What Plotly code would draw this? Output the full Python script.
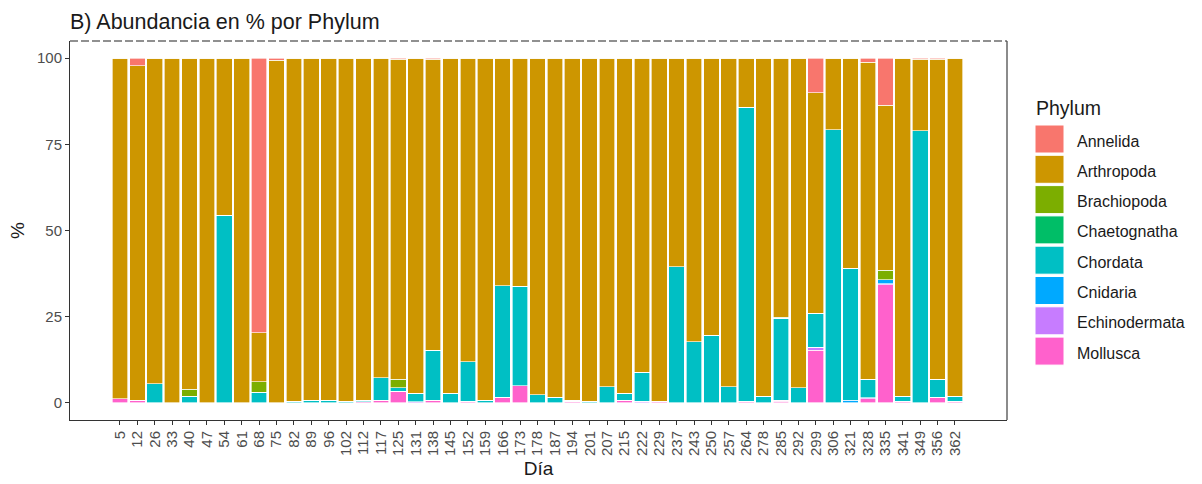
import plotly.graph_objects as go

dias = [5, 12, 26, 33, 40, 47, 54, 61, 68, 75, 82, 89, 96, 102, 112, 117, 125, 131, 138, 145,
        152, 159, 166, 173, 178, 187, 194, 201, 207, 215, 222, 229, 237, 243, 250, 257, 264, 278,
        285, 292, 299, 306, 321, 328, 335, 341, 349, 356, 362]

annelida = [0, 2.2, 0, 0, 0, 0, 0, 0, 79.7, 0.6,
            0, 0, 0, 0, 0, 0, 0.3, 0, 0.3, 0,
            0, 0, 0, 0, 0, 0, 0, 0, 0, 0,
            0, 0, 0, 0, 0, 0, 0, 0, 0, 0,
            10.0, 0, 0, 1.1, 13.7, 0, 0.3, 0.3, 0]
arthropoda = [98.8, 97.0, 94.5, 100, 96.1, 100, 45.6, 100, 14.2, 99.4,
              99.6, 99.2, 99.2, 99.6, 99.2, 92.7, 92.8, 97.3, 84.4, 97.3,
              88.1, 99.2, 66.0, 66.2, 97.7, 98.4, 99.2, 99.6, 95.4, 97.3,
              91.1, 99.6, 60.5, 82.3, 80.4, 95.4, 14.2, 98.1, 75.2, 95.7,
              64.0, 20.7, 60.9, 92.0, 47.9, 98.1, 20.7, 92.8, 98.1]
brachiopoda = [0, 0, 0, 0, 2.0, 0, 0, 0, 3.0, 0,
               0, 0, 0, 0, 0, 0, 2.6, 0, 0, 0,
               0, 0, 0, 0, 0, 0, 0, 0, 0, 0,
               0, 0, 0, 0, 0, 0, 0, 0, 0.3, 0,
               0, 0, 0, 0, 2.7, 0, 0, 0, 0]
chaetognatha = [0] * 49
chordata = [0, 0, 5.5, 0, 1.9, 0, 54.4, 0, 3.1, 0,
            0.4, 0.8, 0.8, 0.4, 0.5, 6.5, 0.9, 2.4, 14.5, 2.7,
            11.5, 0.8, 32.4, 28.9, 2.3, 1.6, 0.4, 0.4, 4.6, 1.9,
            8.5, 0, 39.5, 17.7, 19.6, 4.6, 85.4, 1.9, 23.7, 4.3,
            9.9, 79.3, 38.3, 5.5, 0, 1.5, 79.0, 5.3, 1.5]
cnidaria = [0, 0, 0, 0, 0, 0, 0, 0, 0, 0,
            0, 0, 0, 0, 0, 0, 0, 0, 0, 0,
            0, 0, 0, 0, 0, 0, 0, 0, 0, 0,
            0, 0, 0, 0, 0, 0, 0, 0, 0, 0,
            0, 0, 0.8, 0, 1.1, 0, 0, 0, 0]
echinodermata = [0, 0, 0, 0, 0, 0, 0, 0, 0, 0,
                 0, 0, 0, 0, 0, 0, 0, 0.3, 0, 0,
                 0, 0, 0, 0, 0, 0, 0, 0, 0, 0,
                 0.4, 0, 0, 0, 0, 0, 0, 0, 0.4, 0,
                 0.8, 0, 0, 0.3, 0.4, 0, 0, 0, 0]
mollusca = [1.2, 0.8, 0, 0, 0, 0, 0, 0, 0, 0,
            0, 0, 0, 0, 0.3, 0.8, 3.4, 0, 0.8, 0,
            0.4, 0, 1.6, 4.9, 0, 0, 0.4, 0, 0, 0.8,
            0, 0.4, 0, 0, 0, 0, 0.4, 0, 0.4, 0,
            15.3, 0, 0, 1.1, 34.2, 0.4, 0, 1.6, 0.4]

phyla = ["Annelida", "Arthropoda", "Brachiopoda", "Chaetognatha",
         "Chordata", "Cnidaria", "Echinodermata", "Mollusca"]
series = [annelida, arthropoda, brachiopoda, chaetognatha,
          chordata, cnidaria, echinodermata, mollusca]
colores = ["#F8766D", "#CD9600", "#7CAE00", "#00BE67",
           "#00BFC4", "#00A9FF", "#C77CFF", "#FF61CC"]

W, H = 1202, 484
L, R, T, B = 70, 1007, 41, 420
FONT = "Liberation Sans, Arial, sans-serif"


def px_x(p):
    return (p - L) / (R - L)


def px_y(p):
    return (B - p) / (B - T)


x_cat = [str(d) for d in dias]

fig = go.Figure()
# ggplot apila el primer nivel arriba: se añaden de abajo hacia arriba
for name, vals, col in reversed(list(zip(phyla, series, colores))):
    fig.add_trace(go.Bar(
        x=x_cat, y=vals, name=name, showlegend=False,
        marker=dict(color=col, line=dict(color="rgba(255,255,255,0.8)", width=0.8)),
    ))

fig.update_layout(
    width=W, height=H,
    margin=dict(l=L, r=W - R, t=T, b=H - B, autoexpand=False),
    barmode="stack", bargap=0.1,
    plot_bgcolor="white", paper_bgcolor="white",
    font=dict(family=FONT, color="#1a1a1a"),
    title=dict(text="B) Abundancia en % por Phylum", x=0, xref="paper", xanchor="left",
               y=1 - 21 / H, yanchor="middle", font=dict(size=21.5, color="#1a1a1a")),
    xaxis=dict(type="category", range=[-2.87, 50.99], showgrid=False, zeroline=False,
               tickmode="linear", tick0=0, dtick=1,
               showline=True, linecolor="#333333", linewidth=1,
               ticks="outside", ticklen=4, tickcolor="#333333", tickangle=-90,
               tickfont=dict(size=15, color="#4D4D4D"),
               title=dict(text="Día", font=dict(size=19), standoff=6)),
    yaxis=dict(range=[-5, 105], tickvals=[0, 25, 50, 75, 100], showgrid=False, zeroline=False,
               showline=True, linecolor="#333333", linewidth=1,
               ticks="outside", ticklen=4, tickcolor="#333333",
               tickfont=dict(size=15, color="#4D4D4D"),
               title=dict(text="%", font=dict(size=19), standoff=7)),
)

# borde superior discontinuo y borde derecho
fig.add_shape(type="line", xref="paper", yref="paper", x0=0, x1=1, y0=1, y1=1,
              line=dict(color="#222222", width=1.2, dash="8px,3px"))
fig.add_shape(type="line", xref="paper", yref="paper", x0=1, x1=1, y0=0, y1=1,
              line=dict(color="#4D4D4D", width=1.3))

# leyenda al estilo ggplot
fig.add_annotation(text="Phylum", xref="paper", yref="paper", x=px_x(1034), y=px_y(108),
                   xanchor="left", yanchor="middle", showarrow=False,
                   font=dict(size=19.5, color="#1a1a1a"))
for i, (name, col) in enumerate(zip(phyla, colores)):
    cy = 139 + 30.3 * i
    fig.add_shape(type="rect", xref="paper", yref="paper",
                  x0=px_x(1035), x1=px_x(1064), y0=px_y(cy + 14), y1=px_y(cy - 14),
                  fillcolor=col, line=dict(color="white", width=1))
    fig.add_annotation(text=name, xref="paper", yref="paper", x=px_x(1075), y=px_y(cy + 2),
                       xanchor="left", yanchor="middle", showarrow=False,
                       font=dict(size=16, color="#1a1a1a"))

fig.write_html("out.html", config={"displayModeBar": False},
               post_script="document.body.style.margin='0';")
